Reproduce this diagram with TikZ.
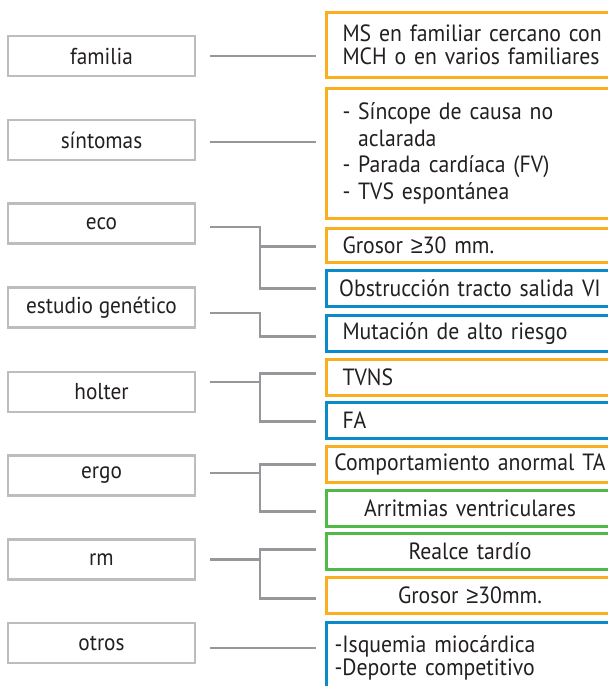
\documentclass[tikz,border=0pt]{standalone}
\usepackage{fontspec}
\setmainfont{PT Sans}[FakeStretch=0.925]
\newfontfamily\symf{Liberation Sans}[FakeStretch=0.925]
\usetikzlibrary{calc}
\definecolor{orng}{HTML}{FAB01E}
\definecolor{blu}{HTML}{0A8AC8}
\definecolor{grn}{HTML}{50B948}
\definecolor{lbord}{HTML}{BDBDBF}
\definecolor{cgray}{HTML}{97979B}
\definecolor{txt}{HTML}{231F20}
\newcommand{\mygeq}{{\symf ≥}}
\begin{document}
\begin{tikzpicture}[x=1pt,y=-1pt,
  lbox/.style={draw=lbord, line width=2.4pt, minimum width=187pt, minimum height=40pt, inner sep=0pt, text=txt, font=\fontsize{23}{26}\selectfont},
  rbox/.style={line width=3pt, minimum width=287pt, inner ysep=0pt, anchor=north west, text=txt, font=\fontsize{23.5}{26}\selectfont},
  rl/.style={rbox, align=left, text width=271pt, inner xsep=16pt},
  rc/.style={rbox, align=center, text width=287pt, inner xsep=0pt},
  conn/.style={draw=cgray, line width=2.3pt},
]
\useasboundingbox (0,0) rectangle (608,686);
\clip (0,0) rectangle (608,686);

% left boxes
\node[lbox] (familia)  at (101.5,56)    {familia};
\node[lbox] (sintomas) at (101.5,140)   {síntomas};
\node[lbox] (eco)      at (101.5,223.5) {eco};
\node[lbox] (estudio)  at (101.5,307.5) {estudio genético};
\node[lbox] (holter)   at (101.5,392)   {holter};
\node[lbox] (ergo)     at (101.5,475.5) {ergo};
\node[lbox] (rm)       at (101.5,559.5) {rm};
\node[lbox] (otros)    at (101.5,643)   {otros};

% right boxes
\node[rl, draw=orng, minimum height=65pt, font=\fontsize{23.5}{23}\selectfont] (r1) at (325,11)
  {MS en familiar cercano con\\MCH o en varios familiares};
\node[rl, draw=orng, minimum height=130pt, font=\fontsize{23.5}{26.7}\selectfont] (r2) at (325,87)
  {- Síncope de causa no\\\hphantom{- }aclarada\\- Parada cardíaca (FV)\\- TVS espontánea};
\node[rl, draw=orng, minimum height=34pt] (r3) at (325,227) {Grosor \mygeq30 mm.};
\node[rc, draw=blu,  minimum height=36pt] (r4) at (325,269) {Obstrucción tracto salida VI};
\node[rl, draw=blu,  minimum height=36pt] (r5) at (325,314) {Mutación de alto riesgo};
\node[rl, draw=orng, minimum height=36pt] (r6) at (325,358) {TVNS};
\node[rl, draw=blu,  minimum height=36pt] (r7) at (325,401) {FA};
\node[rc, draw=orng, minimum height=36pt] (r8) at (325,445) {Comportamiento anormal TA};
\node[rc, draw=grn,  minimum height=36pt] (r9) at (325,489) {Arritmias ventriculares};
\node[rc, draw=grn,  minimum height=36pt] (r10) at (325,532) {Realce tardío};
\node[rc, draw=orng, minimum height=36pt] (r11) at (325,576) {Grosor \mygeq30mm.};
\node[rbox, draw=blu, align=left, text width=279pt, inner xsep=8pt, minimum height=70pt,
      font=\fontsize{23.5}{23}\selectfont] (r12) at (325,621)
  {-Isquemia miocárdica\\-Deporte competitivo};

% connectors
\coordinate (jx) at (260,0);
\draw[conn, shorten <=14pt, shorten >=9pt] (familia.east) -- (familia.east -| r1.west);
\draw[conn] ($(sintomas.east)+(14,2)$) -- ($(sintomas.east -| r2.west)+(-9,2)$);
\draw[conn] ($(eco.east)+(14,3.5)$) -| (jx |- r4.west) -- ($(r4.west)+(-9,0)$);
\draw[conn] ($(jx |- r3.west)+(0,1)$) -- ($(r3.west)+(-9,1)$);
\draw[conn] ($(estudio.east)+(14,5.5)$) -| ($(jx |- r5.west)+(0,3)$) -- ($(r5.west)+(-9,3)$);
\draw[conn] ($(holter.east)+(14,-10)$) -- ($(jx |- holter.east)+(0,-10)$);
\draw[conn] ($(r6.west)+(-9,-4)$) -| ($(jx |- r7.west)+(0,1)$) -- ($(r7.west)+(-9,1)$);
\draw[conn] ($(ergo.east)+(14,-2.5)$) -- ($(jx |- ergo.east)+(0,-2.5)$);
\draw[conn] ($(r8.west)+(-9,0)$) -| ($(jx |- r9.west)+(0,3)$) -- ($(r9.west)+(-9,3)$);
\draw[conn] ($(rm.east)+(14,0)$) -- (jx |- rm.east);
\draw[conn] ($(r10.west)+(-9,-2)$) -| ($(jx |- r11.west)+(0,3)$) -- ($(r11.west)+(-9,3)$);
\draw[conn] ($(otros.east)+(14,5)$) -- ($(otros.east -| r12.west)+(-9,5)$);
\end{tikzpicture}
\end{document}
